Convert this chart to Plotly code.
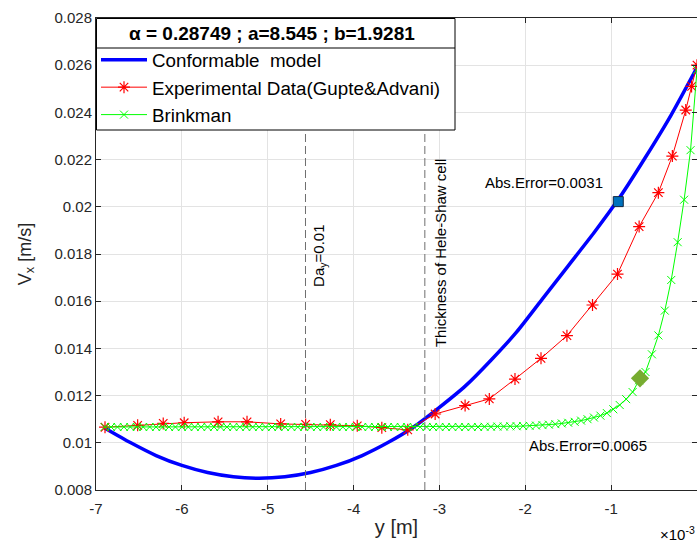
import plotly.graph_objects as go

# ---------------- data (x in units of 1e-3 m) ----------------
model_y = [-6.9, -6.6, -6.3, -6.0, -5.7, -5.4, -5.1, -4.8, -4.5, -4.2, -3.9, -3.6,
           -3.3, -3.0, -2.7, -2.4, -2.1, -1.8, -1.5, -1.2, -0.9, -0.6, -0.3, 0.0]
model_v = [0.01063, 0.01001, 0.00946, 0.00904, 0.00874, 0.00856, 0.00850, 0.00856,
           0.00874, 0.00904, 0.00946, 0.01001, 0.01067, 0.01150, 0.01240, 0.01350,
           0.01470, 0.01610, 0.01750, 0.01890, 0.02040, 0.02210, 0.02390, 0.02590]

exp_y = [-6.895, -6.515, -6.217, -5.973, -5.578, -5.241, -4.849, -4.558, -4.271,
         -3.957, -3.671, -3.369, -3.050, -2.701, -2.419, -2.120, -1.817, -1.515,
         -1.217, -0.926, -0.674, -0.450, -0.287, -0.131, -0.063, 0.0]
exp_v = [0.01066, 0.01074, 0.01082, 0.01085, 0.01089, 0.01089, 0.01080, 0.01078,
         0.01077, 0.01072, 0.01064, 0.01055, 0.01122, 0.01158, 0.01186, 0.01270,
         0.01358, 0.01454, 0.01584, 0.01715, 0.01916, 0.02060, 0.02215, 0.02410,
         0.02510, 0.02600]

brink_y = [-6.900, -6.825, -6.750, -6.675, -6.600, -6.525, -6.450, -6.375, -6.300, -6.225,
           -6.150, -6.075, -6.000, -5.925, -5.850, -5.775, -5.700, -5.625, -5.550, -5.475,
           -5.400, -5.325, -5.250, -5.175, -5.100, -5.025, -4.950, -4.875, -4.800, -4.725,
           -4.650, -4.575, -4.500, -4.425, -4.350, -4.275, -4.200, -4.125, -4.050, -3.975,
           -3.900, -3.825, -3.750, -3.675, -3.600, -3.525, -3.450, -3.375, -3.300, -3.225,
           -3.150, -3.075, -3.000, -2.925, -2.850, -2.775, -2.700, -2.625, -2.550, -2.475,
           -2.400, -2.325, -2.250, -2.175, -2.100, -2.025, -1.950, -1.875, -1.800, -1.725,
           -1.650, -1.575, -1.500, -1.425, -1.350, -1.275, -1.200, -1.125, -1.050, -0.975,
           -0.900, -0.825, -0.750, -0.675, -0.600, -0.525, -0.450, -0.375, -0.300, -0.225,
           -0.150, -0.075, 0.000]
brink_v = [0.01067, 0.01067, 0.01067, 0.01067, 0.01067, 0.01067, 0.01067, 0.01067, 0.01067, 0.01067,
           0.01067, 0.01067, 0.01067, 0.01067, 0.01067, 0.01067, 0.01067, 0.01067, 0.01067, 0.01067,
           0.01067, 0.01067, 0.01067, 0.01067, 0.01067, 0.01067, 0.01067, 0.01067, 0.01067, 0.01067,
           0.01067, 0.01067, 0.01067, 0.01067, 0.01067, 0.01067, 0.01067, 0.01067, 0.01067, 0.01067,
           0.01067, 0.01067, 0.01067, 0.01067, 0.01067, 0.01067, 0.01067, 0.01067, 0.01067, 0.01067,
           0.01067, 0.01067, 0.01067, 0.01067, 0.01067, 0.01067, 0.01067, 0.01067, 0.01067, 0.01068,
           0.01068, 0.01069, 0.01069, 0.01070, 0.01070, 0.01071, 0.01072, 0.01073, 0.01075, 0.01077,
           0.01079, 0.01082, 0.01085, 0.01089, 0.01094, 0.01100, 0.01107, 0.01115, 0.01126, 0.01142,
           0.01160, 0.01185, 0.01215, 0.01265, 0.01300, 0.01375, 0.01455, 0.01560, 0.01690, 0.01850,
           0.02030, 0.02240, 0.02580]

err_model_pt = (-0.917, 0.02022)
err_brink_pt = (-0.664, 0.01273)
da_line_y = -4.56
hele_shaw_y = -3.17

x_ticks = [-7, -6, -5, -4, -3, -2, -1, 0]
x_ticklabels = ["-7", "-6", "-5", "-4", "-3", "-2", "-1", "0"]
y_ticks = [0.008, 0.010, 0.012, 0.014, 0.016, 0.018, 0.020, 0.022, 0.024, 0.026, 0.028]
y_ticklabels = ["0.008", "0.01", "0.012", "0.014", "0.016", "0.018", "0.02",
                "0.022", "0.024", "0.026", "0.028"]

FONT = "Liberation Sans, Arial, sans-serif"
AX = "#262626"
GRID = "#e3e3e3"

# plot-area geometry helpers (pixels -> paper fractions)
L, R, T, B = 96, 697, 18, 490
def px_x(p):
    return (p - L) / (R - L)
def px_y(p):
    return (B - p) / (B - T)

fig = go.Figure()
fig.add_trace(go.Scatter(x=model_y, y=model_v, mode="lines", name="Conformable\u00a0 model",
                         line=dict(color="#0000ff", width=3.5, shape="spline", smoothing=0.6)))
fig.add_trace(go.Scatter(x=exp_y, y=exp_v, mode="lines+markers",
                         name="Experimental Data(Gupte&Advani)",
                         line=dict(color="#ff0000", width=1),
                         marker=dict(symbol="asterisk-open", size=10,
                                     line=dict(color="#ff0000", width=1.2))))
fig.add_trace(go.Scatter(x=brink_y, y=brink_v, mode="lines+markers", name="Brinkman",
                         line=dict(color="#00ff00", width=1),
                         marker=dict(symbol="x-thin-open", size=8,
                                     line=dict(color="#00ff00", width=1))))
fig.add_trace(go.Scatter(x=[err_model_pt[0]], y=[err_model_pt[1]], mode="markers",
                         showlegend=False,
                         marker=dict(symbol="square", size=10, color="#0072bd",
                                     line=dict(color="#10253f", width=1))))
fig.add_trace(go.Scatter(x=[err_brink_pt[0]], y=[err_brink_pt[1]], mode="markers",
                         showlegend=False,
                         marker=dict(symbol="diamond", size=14, color="#77ac30",
                                     line=dict(width=0))))

for xv in (da_line_y, hele_shaw_y):
    fig.add_shape(type="line", xref="x", yref="paper", x0=xv, x1=xv, y0=0, y1=1,
                  line=dict(color="#6f6f6f", width=1, dash="8px,4px"), layer="above")

# legend box with title row (legend itself is transparent on top)
fig.add_shape(type="rect", xref="paper", yref="paper", x0=px_x(96.5), x1=px_x(455),
              y0=px_y(130), y1=px_y(18.5), fillcolor="white",
              line=dict(color="black", width=1), layer="above")
fig.add_shape(type="line", xref="paper", yref="paper", x0=px_x(96.5), x1=px_x(455),
              y0=px_y(48), y1=px_y(48), line=dict(color="black", width=1), layer="above")
fig.add_annotation(xref="paper", yref="paper", x=px_x(271.5), y=px_y(33),
                   text="<b>\u03b1 = 0.28749 ; a=8.545 ; b=1.9281</b>", showarrow=False,
                   font=dict(family=FONT, size=19, color="black"),
                   xanchor="center", yanchor="middle")

ann_font = dict(family=FONT, size=15, color="black")
fig.add_annotation(x=-1.782, y=0.02101, text="Abs.Error=0.0031", showarrow=False,
                   font=ann_font, xanchor="center", yanchor="middle")
fig.add_annotation(x=-1.265, y=0.00988, text="Abs.Error=0.0065", showarrow=False,
                   font=ann_font, xanchor="center", yanchor="middle")
fig.add_annotation(x=-4.391, y=0.01792, text="Da<sub>y</sub>=0.01", showarrow=False,
                   font=ann_font, textangle=-90, xanchor="center", yanchor="middle")
fig.add_annotation(x=-2.993, y=0.01804, text="Thickness of Hele-Shaw cell",
                   showarrow=False, font=ann_font, textangle=-90,
                   xanchor="center", yanchor="middle")
fig.add_annotation(xref="paper", yref="paper", x=px_x(658), y=px_y(533),
                   text="\u00d710<sup>-3</sup>", showarrow=False, font=ann_font,
                   xanchor="left", yanchor="middle")

fig.update_layout(
    width=697, height=543,
    margin=dict(l=96, r=0, t=18, b=53),
    paper_bgcolor="white", plot_bgcolor="white",
    font=dict(family=FONT, size=15, color=AX),
    showlegend=True,
    legend=dict(x=0, y=px_y(41), xanchor="left", yanchor="top",
                bgcolor="rgba(0,0,0,0)", borderwidth=0,
                font=dict(family=FONT, size=18.8, color="black"),
                itemwidth=46, tracegroupgap=0),
    xaxis=dict(range=[-7, 0], tickvals=x_ticks, ticktext=x_ticklabels,
               showgrid=True, gridcolor=GRID, gridwidth=1,
               showline=True, linecolor=AX, linewidth=1, mirror="ticks",
               ticks="inside", ticklen=5, tickcolor=AX, zeroline=False,
               ticklabelstandoff=5,
               tickfont=dict(family=FONT, size=15, color=AX),
               title=dict(text="y [m]", font=dict(family=FONT, size=20, color=AX),
                          standoff=3)),
    yaxis=dict(range=[0.008, 0.028], tickvals=y_ticks, ticktext=y_ticklabels,
               showgrid=True, gridcolor=GRID, gridwidth=1,
               showline=True, linecolor=AX, linewidth=1, mirror="ticks",
               ticks="inside", ticklen=5, tickcolor=AX, zeroline=False,
               tickfont=dict(family=FONT, size=15, color=AX),
               title=dict(text="V<sub>x</sub> [m/s]",
                          font=dict(family=FONT, size=18, color=AX), standoff=18)),
)

fig.write_html("out.html")
